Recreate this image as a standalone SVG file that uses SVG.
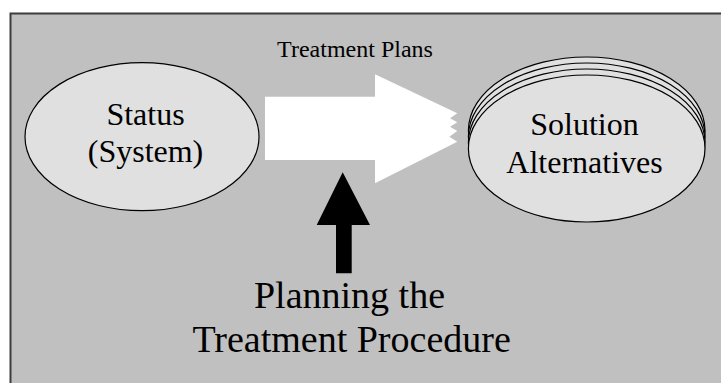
<svg xmlns="http://www.w3.org/2000/svg" width="721" height="383" viewBox="0 0 721 383">
  <style>
    .panel { fill: #c0c0c0; stroke: #3c3c3c; stroke-width: 2; }
    .node { fill: #e0e0e0; stroke: #000; stroke-width: 1.2; }
    .label { font-family: "Liberation Serif", "Times New Roman", serif; fill: #000; text-anchor: middle; }
  </style>
  <rect x="0" y="0" width="721" height="383" fill="#ffffff"/>
  <rect class="panel" x="10.5" y="13.5" width="720" height="380"/>

  <!-- Left node: current status -->
  <g id="status">
    <ellipse class="node" cx="142" cy="136.7" rx="117" ry="74"/>
    <text class="label" x="145.5" y="125" font-size="32">Status</text>
    <text class="label" x="145.5" y="161.7" font-size="32">(System)</text>
  </g>

  <!-- Right node: stacked set of alternatives -->
  <g id="solutions">
    <ellipse class="node" cx="586.7" cy="130.5" rx="118.3" ry="73.5"/>
    <ellipse class="node" cx="586.7" cy="136.5" rx="118.3" ry="73.5"/>
    <ellipse class="node" cx="586.7" cy="142.5" rx="118.3" ry="73.5"/>
    <ellipse class="node" cx="586.7" cy="148.5" rx="118.3" ry="73.5"/>
    <text class="label" x="584.5" y="135" font-size="32">Solution</text>
    <text class="label" x="584.5" y="173.3" font-size="32">Alternatives</text>
  </g>

  <!-- Bottom node: planning input -->
  <g id="planning">
    <text class="label" x="349.5" y="308.3" font-size="38">Planning the</text>
    <text class="label" x="351.6" y="351.7" font-size="38">Treatment Procedure</text>
  </g>

  <g id="connectors">
    <!-- Wide white arrow with jagged tip -->
    <polygon fill="#ffffff" points="265,96.7 375,96.7 375,74.3 457.3,113.3 450,118.3 457.3,122.3 450,126.7 457.3,131 449.3,136.7 457.3,141.7 375,183.3 375,160 265,160"/>
    <text class="label" x="355" y="56.7" font-size="24">Treatment Plans</text>
    <!-- Black upward arrow -->
    <polygon fill="#000000" points="342.7,172.3 370,225 351.7,225 351.7,273.3 336,273.3 336,225 316.7,225"/>
  </g>
</svg>
